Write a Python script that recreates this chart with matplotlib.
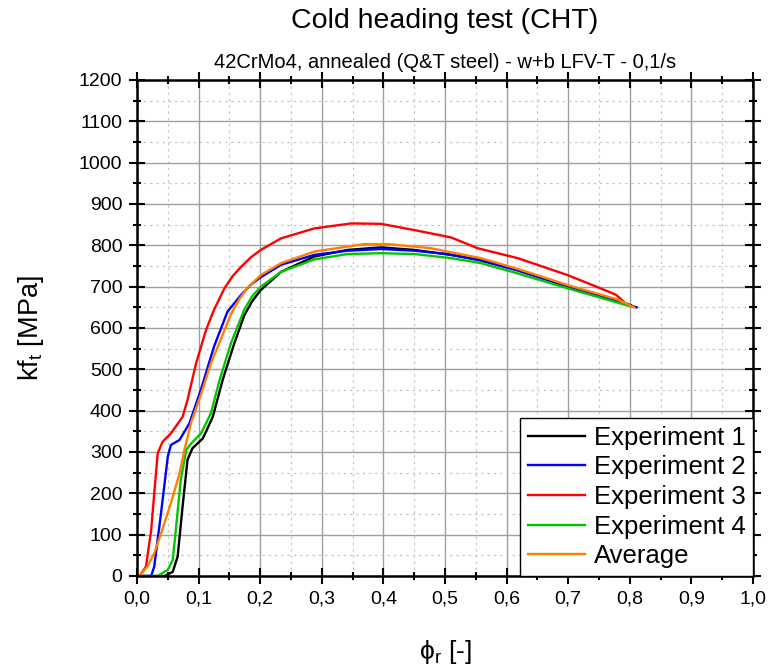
"""
Cold heading test (CHT) - flow curves kf_t vs phi_r
"""
import numpy as np
import matplotlib.pyplot as plt
from matplotlib.ticker import MultipleLocator, FuncFormatter

plt.rcParams['font.family'] = ['Liberation Sans', 'DejaVu Sans']
plt.rcParams['mathtext.fontset'] = 'custom'
plt.rcParams['mathtext.rm'] = 'Liberation Sans'
plt.rcParams['mathtext.it'] = 'Liberation Sans:italic'

# Experiment 1 (black)
exp1_phi = [0.0, 0.045, 0.058, 0.066, 0.074, 0.082, 0.090, 0.107, 0.123, 0.139, 0.158, 0.174,
            0.187, 0.201, 0.234, 0.288, 0.342, 0.396, 0.450, 0.504, 0.558, 0.618, 0.699, 0.760, 0.802]
exp1_kf = [0, 0, 10, 47, 168, 281, 309, 333, 385, 474, 563, 630,
           665, 692, 736, 773, 789, 795, 789, 778, 765, 741, 702, 676, 655]

# Experiment 2 (blue)
exp2_phi = [0.0, 0.023, 0.028, 0.039, 0.050, 0.055, 0.069, 0.085, 0.104, 0.125, 0.147, 0.169,
            0.185, 0.201, 0.234, 0.288, 0.342, 0.396, 0.450, 0.504, 0.558, 0.618, 0.699, 0.760, 0.811]
exp2_kf = [0, 0, 23, 152, 289, 317, 329, 369, 452, 555, 640, 680,
           705, 723, 753, 777, 787, 791, 787, 779, 763, 739, 700, 672, 650]

# Experiment 3 (red)
exp3_phi = [0.0, 0.004, 0.0146, 0.023, 0.028, 0.0336, 0.0417, 0.055, 0.074, 0.082, 0.096, 0.112,
            0.125, 0.142, 0.155, 0.169, 0.185, 0.201, 0.234, 0.288, 0.348, 0.396, 0.450, 0.510,
            0.553, 0.618, 0.699, 0.759, 0.778, 0.790]
exp3_kf = [0, 0, 23, 111, 200, 297, 325, 345, 385, 426, 515, 595,
           644, 696, 725, 748, 771, 789, 817, 841, 853, 852, 837, 819,
           793, 769, 728, 692, 680, 664]

# Experiment 4 (green)
exp4_phi = [0.0, 0.0336, 0.050, 0.058, 0.063, 0.071, 0.080, 0.088, 0.104, 0.120, 0.134, 0.153,
            0.174, 0.187, 0.201, 0.234, 0.288, 0.342, 0.396, 0.450, 0.510, 0.558, 0.618, 0.699,
            0.760, 0.802]
exp4_kf = [0, 0, 15, 39, 111, 232, 305, 321, 345, 394, 474, 565,
           644, 677, 700, 736, 766, 779, 781, 779, 769, 757, 732, 696,
           670, 652]

# Average (orange)
avg_phi = [0.0, 0.004, 0.017, 0.028, 0.039, 0.055, 0.069, 0.077, 0.088, 0.104, 0.120, 0.134,
           0.153, 0.167, 0.180, 0.201, 0.234, 0.288, 0.369, 0.407, 0.477, 0.558, 0.618, 0.699,
           0.780, 0.807]
avg_kf = [0, 0, 23, 55, 103, 176, 248, 305, 372, 440, 515, 565,
          635, 672, 698, 728, 757, 785, 803, 803, 793, 769, 743, 704,
          669, 650]

series = [
    (exp1_phi, exp1_kf, '#000000', 'Experiment 1'),
    (exp2_phi, exp2_kf, '#0000ff', 'Experiment 2'),
    (exp3_phi, exp3_kf, '#ff0000', 'Experiment 3'),
    (exp4_phi, exp4_kf, '#00c800', 'Experiment 4'),
    (avg_phi, avg_kf, '#ff8000', 'Average'),
]

fig = plt.figure(figsize=(7.7, 6.7), dpi=100)
ax = fig.add_axes([137 / 770, 1 - 576 / 670, 616 / 770, 496 / 670])

for phi, kf, color, label in series:
    ax.plot(phi, kf, color=color, linewidth=1.7, label=label, solid_joinstyle='round')

ax.set_xlim(0, 1.0)
ax.set_ylim(0, 1200)
ax.xaxis.set_major_locator(MultipleLocator(0.1))
ax.xaxis.set_minor_locator(MultipleLocator(0.05))
ax.yaxis.set_major_locator(MultipleLocator(100))
ax.yaxis.set_minor_locator(MultipleLocator(50))
ax.xaxis.set_major_formatter(FuncFormatter(lambda v, p: f"{v:.1f}".replace('.', ',')))

# Grid: solid major, dotted minor
ax.grid(True, which='major', color='#a0a0a0', linewidth=1.0, linestyle='-')
ax.grid(True, which='minor', color='#c8c8c8', linewidth=0.9, linestyle=(0, (2, 3)))
ax.set_axisbelow(True)

for sp in ax.spines.values():
    sp.set_linewidth(1.8)

ax.tick_params(which='both', direction='inout', top=True, right=True, width=1.5, labelsize=14)
ax.tick_params(which='major', length=11, pad=5)
ax.tick_params(which='minor', length=6)

ax.set_xlabel('ϕ$_\\mathrm{r}$ [-]', fontsize=19, labelpad=22)
ax.set_ylabel(r'kf$_\mathrm{t}$ [MPa]', fontsize=19.5, labelpad=24)

fig.text(445 / 770, 0.968, 'Cold heading test (CHT)', ha='center', va='center', fontsize=20.5)
fig.text(445 / 770, 0.907, '42CrMo4, annealed (Q&T steel) - w+b LFV-T - 0,1/s',
         ha='center', va='center', fontsize=14.5)

leg = ax.legend(loc='lower right', fontsize=18.5, frameon=True, fancybox=False,
                borderaxespad=0, handlelength=2.2, labelspacing=0.22,
                borderpad=0.3, handletextpad=0.35)
leg.get_frame().set_edgecolor('black')
leg.get_frame().set_linewidth(1.0)
leg.get_frame().set_alpha(1.0)

plt.savefig('out.png', dpi=100)
plt.close()
